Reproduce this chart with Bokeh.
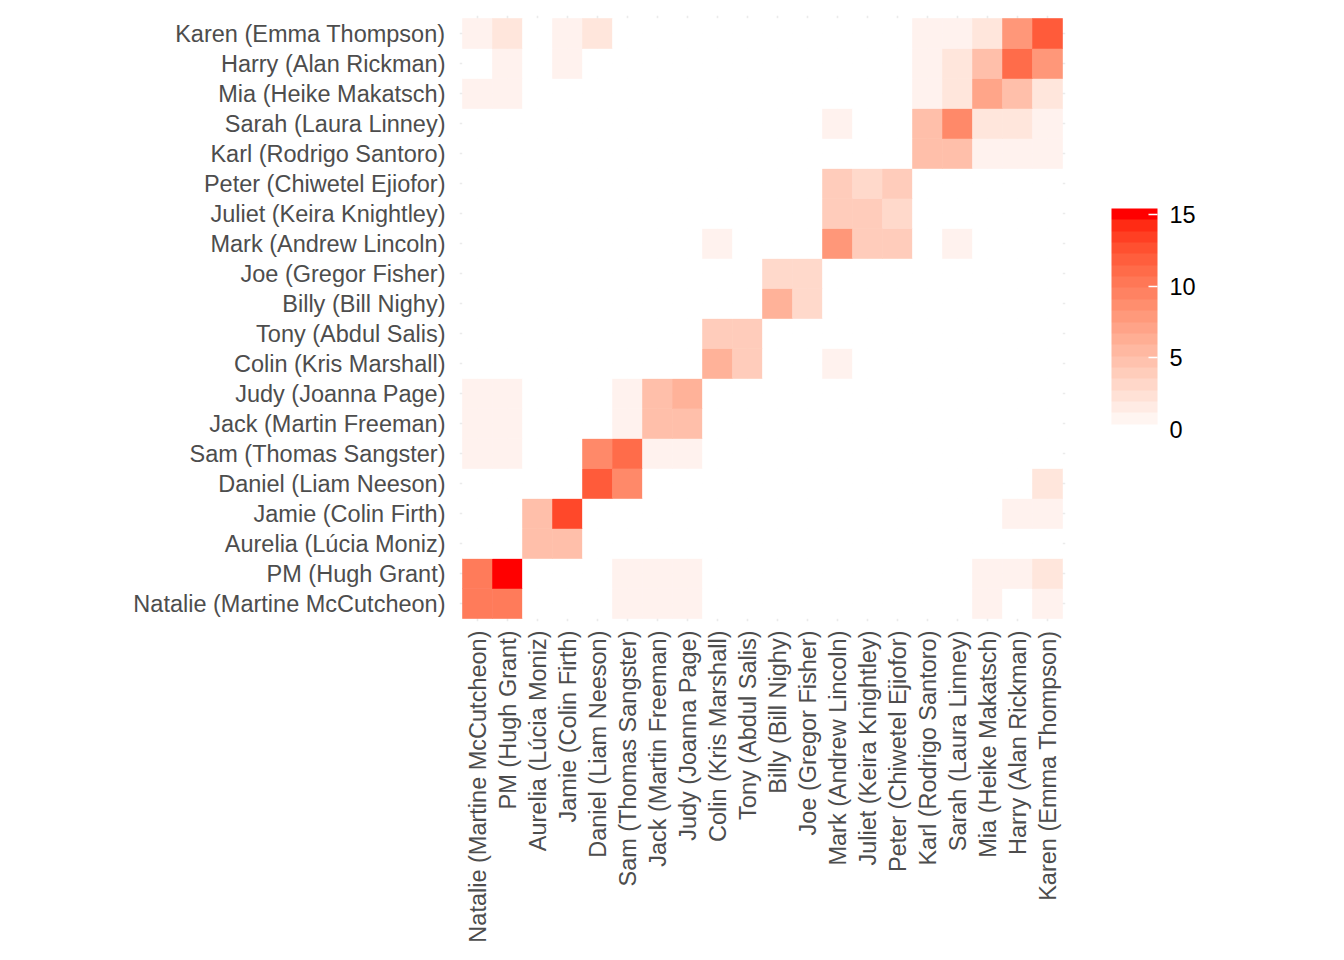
import numpy as np
from bokeh.plotting import figure
from bokeh.models import ColumnDataSource, LinearColorMapper, ColorBar, FixedTicker, FactorRange
from bokeh.embed import file_html
from bokeh.resources import INLINE

characters = [
    "Natalie (Martine McCutcheon)", "PM (Hugh Grant)", "Aurelia (Lúcia Moniz)",
    "Jamie (Colin Firth)", "Daniel (Liam Neeson)", "Sam (Thomas Sangster)",
    "Jack (Martin Freeman)", "Judy (Joanna Page)", "Colin (Kris Marshall)",
    "Tony (Abdul Salis)", "Billy (Bill Nighy)", "Joe (Gregor Fisher)",
    "Mark (Andrew Lincoln)", "Juliet (Keira Knightley)", "Peter (Chiwetel Ejiofor)",
    "Karl (Rodrigo Santoro)", "Sarah (Laura Linney)", "Mia (Heike Makatsch)",
    "Harry (Alan Rickman)", "Karen (Emma Thompson)",
]

# rows: y character (same order as characters), columns: x character
natalie = [10, 10, 0, 0, 0, 1, 1, 1, 0, 0, 0, 0, 0, 0, 0, 0, 0, 1, 0, 1]
pm      = [10, 15, 0, 0, 0, 1, 1, 1, 0, 0, 0, 0, 0, 0, 0, 0, 0, 1, 1, 2]
aurelia = [0, 0, 5, 5, 0, 0, 0, 0, 0, 0, 0, 0, 0, 0, 0, 0, 0, 0, 0, 0]
jamie   = [0, 0, 5, 13, 0, 0, 0, 0, 0, 0, 0, 0, 0, 0, 0, 0, 0, 0, 1, 1]
daniel  = [0, 0, 0, 0, 12, 9, 0, 0, 0, 0, 0, 0, 0, 0, 0, 0, 0, 0, 0, 2]
sam     = [1, 1, 0, 0, 9, 11, 1, 1, 0, 0, 0, 0, 0, 0, 0, 0, 0, 0, 0, 0]
jack    = [1, 1, 0, 0, 0, 1, 5, 5, 0, 0, 0, 0, 0, 0, 0, 0, 0, 0, 0, 0]
judy    = [1, 1, 0, 0, 0, 1, 5, 6, 0, 0, 0, 0, 0, 0, 0, 0, 0, 0, 0, 0]
colin   = [0, 0, 0, 0, 0, 0, 0, 0, 6, 4, 0, 0, 1, 0, 0, 0, 0, 0, 0, 0]
tony    = [0, 0, 0, 0, 0, 0, 0, 0, 4, 4, 0, 0, 0, 0, 0, 0, 0, 0, 0, 0]
billy   = [0, 0, 0, 0, 0, 0, 0, 0, 0, 0, 6, 3, 0, 0, 0, 0, 0, 0, 0, 0]
joe     = [0, 0, 0, 0, 0, 0, 0, 0, 0, 0, 3, 3, 0, 0, 0, 0, 0, 0, 0, 0]
mark    = [0, 0, 0, 0, 0, 0, 0, 0, 1, 0, 0, 0, 8, 4, 4, 0, 1, 0, 0, 0]
juliet  = [0, 0, 0, 0, 0, 0, 0, 0, 0, 0, 0, 0, 4, 4, 3, 0, 0, 0, 0, 0]
peter   = [0, 0, 0, 0, 0, 0, 0, 0, 0, 0, 0, 0, 4, 3, 4, 0, 0, 0, 0, 0]
karl    = [0, 0, 0, 0, 0, 0, 0, 0, 0, 0, 0, 0, 0, 0, 0, 5, 5, 1, 1, 1]
sarah   = [0, 0, 0, 0, 0, 0, 0, 0, 0, 0, 0, 0, 1, 0, 0, 5, 9, 2, 2, 1]
mia     = [1, 1, 0, 0, 0, 0, 0, 0, 0, 0, 0, 0, 0, 0, 0, 1, 2, 7, 5, 2]
harry   = [0, 1, 0, 1, 0, 0, 0, 0, 0, 0, 0, 0, 0, 0, 0, 1, 2, 5, 11, 8]
karen   = [1, 2, 0, 1, 2, 0, 0, 0, 0, 0, 0, 0, 0, 0, 0, 1, 1, 2, 8, 12]

rows = [natalie, pm, aurelia, jamie, daniel, sam, jack, judy, colin, tony,
        billy, joe, mark, juliet, peter, karl, sarah, mia, harry, karen]

legend_ticks = [0, 5, 10, 15]
v_low, v_high = 0, 15

# ---- Lab interpolation (white -> red), like ggplot's scale_fill_gradient ----
M = np.array([[0.4124564, 0.3575761, 0.1804375],
              [0.2126729, 0.7151522, 0.0721750],
              [0.0193339, 0.1191920, 0.9503041]])
WHITE_REF = np.array([0.95047, 1.0, 1.08883])

def to_lab(rgb):
    c = np.array(rgb) / 255.0
    lin = np.where(c <= 0.04045, c / 12.92, ((c + 0.055) / 1.055) ** 2.4)
    xyz = M @ lin / WHITE_REF
    d = 6 / 29
    f = np.where(xyz > d ** 3, np.cbrt(xyz), xyz / (3 * d * d) + 4 / 29)
    return np.array([116 * f[1] - 16, 500 * (f[0] - f[1]), 200 * (f[1] - f[2])])

def from_lab(lab):
    L, a, b = lab
    fy = (L + 16) / 116
    fx = fy + a / 500
    fz = fy - b / 200
    d = 6 / 29
    f = np.array([fx, fy, fz])
    xyz = np.where(f > d, f ** 3, 3 * d * d * (f - 4 / 29)) * WHITE_REF
    lin = np.linalg.solve(M, xyz)
    lin = np.clip(lin, 0, 1)
    c = np.where(lin <= 0.0031308, 12.92 * lin, 1.055 * lin ** (1 / 2.4) - 0.055)
    c = np.clip(np.round(c * 255), 0, 255).astype(int)
    return "#%02x%02x%02x" % tuple(c)

lab_lo = to_lab((255, 255, 255))
lab_hi = to_lab((255, 0, 0))

def ramp(t):
    return from_lab(lab_lo + (lab_hi - lab_lo) * t)

tile_palette = [ramp(i / 255) for i in range(256)]
nbin = 20
bar_palette = [ramp(i / (nbin - 1)) for i in range(nbin)]

xs, ys, vs = [], [], []
for yi, row in enumerate(rows):
    for xi, v in enumerate(row):
        xs.append(characters[xi])
        ys.append(characters[yi])
        vs.append(v)
src = ColumnDataSource(dict(x=xs, y=ys, v=vs))

tile_mapper = LinearColorMapper(palette=tile_palette, low=v_low, high=v_high)
half_bin = (v_high - v_low) / (nbin - 1) / 2
bar_mapper = LinearColorMapper(palette=bar_palette, low=v_low - half_bin, high=v_high + half_bin)

FONT = "Liberation Sans"
FS = "23.5px"

p = figure(
    x_range=FactorRange(factors=characters, range_padding=0.1, range_padding_units="absolute"),
    y_range=FactorRange(factors=characters, range_padding=0.1, range_padding_units="absolute"),
    width=1328, height=952,
    min_border_left=459, min_border_right=263, min_border_top=15, min_border_bottom=331,
    output_backend="svg", toolbar_location=None,
)
p.outline_line_color = None
p.background_fill_color = "white"
p.border_fill_color = "white"

p.rect(x="x", y="y", width=1, height=1, source=src,
       fill_color={"field": "v", "transform": tile_mapper},
       line_color={"field": "v", "transform": tile_mapper}, line_width=0.6)

for g in (p.xgrid, p.ygrid):
    g.grid_line_color = "#EBEBEB"
    g.grid_line_width = 1.6

for ax in (p.xaxis, p.yaxis):
    ax.axis_line_color = None
    ax.major_tick_line_color = None
    ax.minor_tick_line_color = None
    ax.major_tick_out = 0
    ax.major_tick_in = 0
    ax.major_label_text_font = FONT
    ax.major_label_text_font_size = FS
    ax.major_label_text_color = "#4D4D4D"
p.xaxis.major_label_orientation = np.pi / 2
p.xaxis.major_label_standoff = 9
p.yaxis.major_label_standoff = 14

cb = ColorBar(
    color_mapper=bar_mapper,
    ticker=FixedTicker(ticks=legend_ticks),
    width=46, height=227,
    location=(652, 186),
    margin=0, padding=0,
    label_standoff=12,
    major_label_text_font=FONT,
    major_label_text_font_size=FS,
    major_label_text_color="black",
    major_tick_line_color="white",
    major_tick_line_width=1.5,
    major_tick_in=9, major_tick_out=0,
    minor_tick_line_color=None,
    bar_line_color=None,
    border_line_color=None,
    background_fill_color=None,
)
p.add_layout(cb, "center")

open("out.html", "w").write(file_html(p, INLINE))
